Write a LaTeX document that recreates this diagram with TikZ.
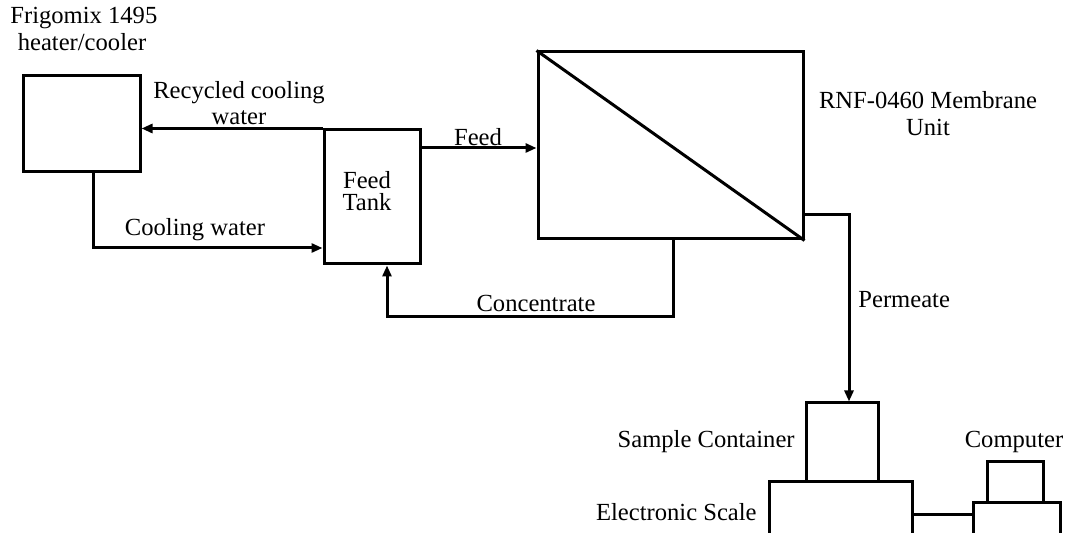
\documentclass[tikz,border=0pt]{standalone}
\usepackage{fontspec}
\setmainfont{Liberation Serif}
\usetikzlibrary{fit,arrows.meta}
\begin{document}
\begin{tikzpicture}[x=0.5pt,y=-0.5pt,
  box/.style={draw,line width=1.5pt,inner sep=0pt,fit={#1}},
  conn/.style={line width=1.5pt},
  arr/.style={line width=1.5pt,-{Triangle[length=5.5pt,width=4.5pt]}},
  lbl/.style={font=\fontsize{12.3}{14}\selectfont,inner sep=0pt}]
\useasboundingbox (0,0) rectangle (1066,533);
\clip (0,0) rectangle (1066,533);
% boxes
\node[box={(23,76) (140,172)}] (heat) {};
\node[box={(324,130) (420,264)}] (tank) {};
\node[box={(538,52) (803,239)}] (mem) {};
\node[box={(806,403) (878,482)}] (samp) {};
\node[box={(769,482) (912,560)}] (scale) {};
\node[box={(987,462) (1043,503)}] (mon) {};
\node[box={(973,503) (1060,560)}] (cbase) {};
\draw[conn] (mem.north west) -- (mem.south east);
% coordinates
\coordinate (cw) at (93,248);
\coordinate (fd) at (0,148);
\coordinate (cc) at (673,317);
\coordinate (cc2) at (387,317);
\coordinate (pm) at (849,215);
\coordinate (sc) at (0,515);
% connectors
\draw[arr] (tank.north west) -- (tank.north west -| heat.east);
\draw[arr] (heat.south -| cw) |- (tank.west |- cw);
\draw[arr] (tank.east |- fd) -- (mem.west |- fd);
\draw[arr] (mem.south -| cc) |- (cc2) -- (tank.south -| cc2);
\draw[arr] (mem.east |- pm) -| (samp.north -| pm);
\draw[conn] (scale.east |- sc) -- (cbase.west |- sc);
% labels
\node[lbl,anchor=west] (t1) at (10,18) {Frigomix 1495};
\node[lbl] (t2) at (82,42) {heater/cooler};
\node[lbl] (t3) at (239,93) {Recycled cooling};
\node[lbl] (t4) at (239,118) {water};
\node[lbl] (t5) at (195,230) {Cooling water};
\node[lbl] (t6) at (367,180) {Feed};
\node[lbl] (t7) at (367,202) {Tank};
\node[lbl] (t8) at (478,137) {Feed};
\node[lbl] (t9) at (536,303) {Concentrate};
\node[lbl,anchor=west] (t10) at (858,300) {Permeate};
\node[lbl] (t11) at (928,100) {RNF-0460 Membrane};
\node[lbl] (t12) at (928,127) {Unit};
\node[lbl,anchor=east] (t13) at (795,442) {Sample Container};
\node[lbl,anchor=east] (t14) at (757,512) {Electronic Scale};
\node[lbl] (t15) at (1014,442) {Computer};
\end{tikzpicture}
\end{document}
